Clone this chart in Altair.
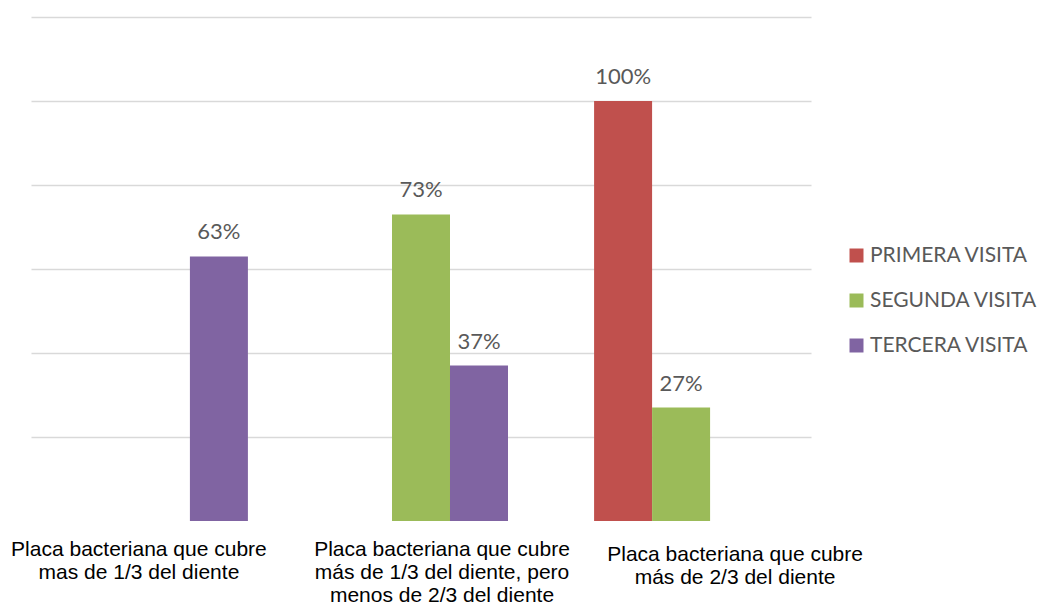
import altair as alt
import pandas as pd

# Categories (a "|" marks a line break in the axis label)
categories = [
    "Placa bacteriana que cubre|mas de 1/3 del diente",
    "Placa bacteriana que cubre|más de 1/3 del diente, pero|menos de 2/3 del diente",
    "Placa bacteriana que cubre|más de 2/3 del diente",
]
series = ["PRIMERA VISITA", "SEGUNDA VISITA", "TERCERA VISITA"]
colors = ["#C0504D", "#9BBB59", "#8064A2"]

# Percent of patients per visit (None = no bar)
primera = [None, None, 100]
segunda = [None, 73, 27]
tercera = [63, 37, None]

rows = []
for name, values in zip(series, [primera, segunda, tercera]):
    for cat, v in zip(categories, values):
        if v is not None:
            rows.append({"categoria": cat, "visita": name, "pct": v})
df = pd.DataFrame(rows)

x_enc = alt.X(
    "categoria:N",
    sort=categories,
    scale=alt.Scale(paddingInner=0.331, paddingOuter=0.165),
    axis=alt.Axis(
        title=None,
        domain=False,
        ticks=False,
        labelAngle=0,
        labelExpr="split(datum.label, '|')",
        labelFont="Liberation Sans",
        labelFontSize=21,
        labelLineHeight=23,
        labelColor="#000000",
        labelBaseline="top",
        labelLimit=400,
        labelPadding={"expr": "datum.index > 0.75 ? 22 : 17"},
        labelOffset={"expr": "datum.index < 0.25 ? -22 : (datum.index < 0.75 ? 21 : 54)"},
    ),
)
xoff = alt.XOffset(
    "visita:N",
    scale=alt.Scale(domain=series, paddingInner=0, paddingOuter=0),
)
y_enc = alt.Y(
    "pct:Q",
    scale=alt.Scale(domain=[0, 120], nice=False),
    axis=alt.Axis(
        title=None,
        labels=False,
        ticks=False,
        domain=False,
        values=[20, 40, 60, 80, 100, 120],
        gridColor="#D9D9D9",
        gridWidth=1.3,
    ),
)

base = alt.Chart(df).encode(x=x_enc, xOffset=xoff, y=y_enc)

bars = base.mark_bar().encode(
    color=alt.Color(
        "visita:N",
        scale=alt.Scale(domain=series, range=colors),
        legend=alt.Legend(
            title=None,
            orient="none",
            legendX=815,
            legendY=228,
            symbolType="square",
            symbolSize=196,
            symbolStrokeWidth=0,
            symbolOpacity=1,
            labelFont="Lato",
            labelFontSize=21,
            labelColor="#595959",
            rowPadding=23,
            labelOffset=3,
            labelLimit=300,
        ),
    )
)

labels = base.mark_text(
    baseline="bottom",
    dy=-12,
    font="Lato",
    fontSize=22,
    color="#595959",
).encode(text=alt.Text("label:N")).transform_calculate(
    label="datum.pct + '%'"
)

chart = (
    alt.layer(bars, labels)
    .properties(
        width=780,
        height=504,
        padding={"left": 31, "top": 17, "right": 226, "bottom": 84},
        autosize=alt.AutoSizeParams(type="none"),
        background="white",
    )
    .configure_view(stroke=None)
)

chart.save("out.html", embed_options={"renderer": "svg", "actions": False})
